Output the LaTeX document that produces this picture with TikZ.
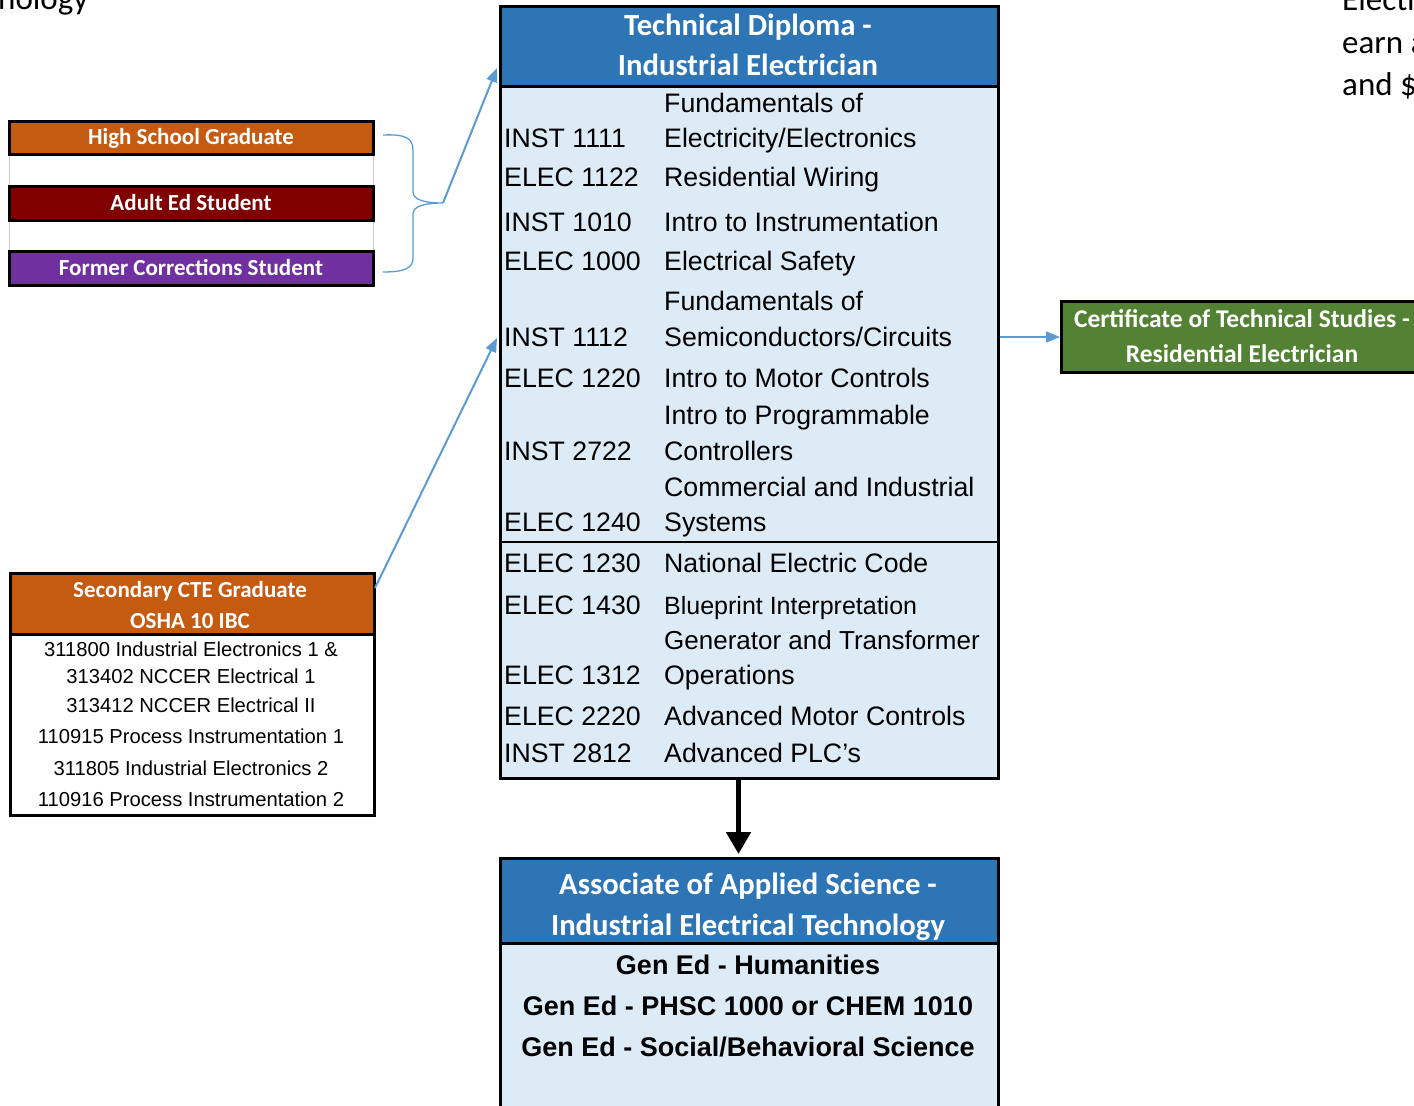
\documentclass[tikz,border=0pt]{standalone}
\usepackage{fontspec}
\setmainfont{Liberation Sans}
\newfontfamily\calibri{Carlito}
\usetikzlibrary{arrows.meta}
\definecolor{hdrblue}{HTML}{2E75B6}
\definecolor{bodyblue}{HTML}{DDEBF7}
\definecolor{hsorange}{HTML}{C55A11}
\definecolor{adultred}{HTML}{800000}
\definecolor{corrpurple}{HTML}{7030A0}
\definecolor{ctsgreen}{HTML}{548235}
\definecolor{linkblue}{HTML}{5B9BD5}
\begin{document}
\begin{tikzpicture}[x=1pt,y=-1pt,
  panel/.style={draw=black, line width=3pt, inner sep=0pt, anchor=north west},
  lbox/.style={draw=black, line width=3pt, inner sep=0pt, text=white, minimum width=364pt,
    font=\calibri\bfseries\fontsize{23}{27}\selectfont, text height=14.8pt, text depth=0pt},
  hdr/.style={anchor=base, inner sep=0pt, text=white, font=\calibri\bfseries\fontsize{30.7}{35}\selectfont},
  smhdr/.style={anchor=base, inner sep=0pt, text=white, font=\calibri\bfseries\fontsize{23}{27}\selectfont},
  ctshdr/.style={anchor=base, inner sep=0pt, text=white, font=\calibri\bfseries\fontsize{25.5}{29}\selectfont},
  course/.style={anchor=base west, inner sep=0pt, font=\fontsize{26.7}{31}\selectfont},
  cte/.style={anchor=base, inner sep=0pt, font=\fontsize{20.2}{24}\selectfont},
  gened/.style={anchor=base, inner sep=0pt, font=\bfseries\fontsize{27}{31}\selectfont},
  partial/.style={inner sep=0pt, font=\calibri\fontsize{33}{38}\selectfont},
  barrow/.style={draw=linkblue, line width=2pt, -{Triangle[length=14pt,width=11pt]}},
]
\useasboundingbox (0,0) rectangle (1414,1106);

% partial texts at the edges
\node[partial, anchor=base west] (pl) at (-2,9) {nology};
\node[partial, anchor=base west] (pr1) at (1342,10) {Electr};
\node[partial, anchor=base west] (pr2) at (1342,53) {earn a};
\node[partial, anchor=base west] (pr3) at (1342,95) {and \$};

% ---------------- Technical Diploma box ----------------
\node[panel, fill=bodyblue, minimum width=498pt, minimum height=772pt] (td) at (499,5) {};
\node[panel, fill=hdrblue, minimum width=498pt, minimum height=80pt] (tdh) at (499,5) {};
\node[hdr] (tdh1) at (748,35) {Technical Diploma -};
\node[hdr] (tdh2) at (748,75) {Industrial Electrician};
\draw[line width=2pt] (499,542) -- (997,542);

\node[course] (d1a) at (664,112) {Fundamentals of};
\node[course] (c1) at (504,147) {INST 1111};
\node[course] (d1b) at (664,147) {Electricity/Electronics};
\node[course] (c2) at (504,186) {ELEC 1122};
\node[course] (d2) at (664,186) {Residential Wiring};
\node[course] (c3) at (504,231) {INST 1010};
\node[course] (d3) at (664,231) {Intro to Instrumentation};
\node[course] (c4) at (504,270) {ELEC 1000};
\node[course] (d4) at (664,270) {Electrical Safety};
\node[course] (d5a) at (664,310) {Fundamentals of};
\node[course] (c5) at (504,346) {INST 1112};
\node[course] (d5b) at (664,346) {Semiconductors/Circuits};
\node[course] (c6) at (504,387) {ELEC 1220};
\node[course] (d6) at (664,387) {Intro to Motor Controls};
\node[course] (d7a) at (664,424) {Intro to Programmable};
\node[course] (c7) at (504,460) {INST 2722};
\node[course] (d7b) at (664,460) {Controllers};
\node[course] (d8a) at (664,496) {Commercial and Industrial};
\node[course] (c8) at (504,531) {ELEC 1240};
\node[course] (d8b) at (664,531) {Systems};
\node[course] (c9) at (504,572) {ELEC 1230};
\node[course] (d9) at (664,572) {National Electric Code};
\node[course] (c10) at (504,614) {ELEC 1430};
\node[course, font=\fontsize{25}{29}\selectfont] (d10) at (664,614) {Blueprint Interpretation};
\node[course, font=\fontsize{26}{30}\selectfont] (d11a) at (664,649) {Generator and Transformer};
\node[course] (c11) at (504,684) {ELEC 1312};
\node[course] (d11b) at (664,684) {Operations};
\node[course] (c12) at (504,725) {ELEC 2220};
\node[course] (d12) at (664,725) {Advanced Motor Controls};
\node[course] (c13) at (504,762) {INST 2812};
\node[course] (d13) at (664,762) {Advanced PLC's};

% ---------------- Associate box ----------------
\node[panel, fill=bodyblue, minimum width=498pt, minimum height=280pt] (as) at (499,857) {};
\node[panel, fill=hdrblue, minimum width=498pt, minimum height=85pt] (ash) at (499,857) {};
\node[hdr] (ash1) at (748,894) {Associate of Applied Science -};
\node[hdr] (ash2) at (748,935) {Industrial Electrical Technology};
\node[gened] (g1) at (748,974) {Gen Ed - Humanities};
\node[gened] (g2) at (748,1015) {Gen Ed - PHSC 1000 or CHEM 1010};
\node[gened] (g3) at (748,1056) {Gen Ed - Social/Behavioral Science};

% ---------------- Left entry boxes ----------------
\draw[gray!40, line width=1pt] (9,154) -- (9,251) (373,154) -- (373,251);
\node[lbox, fill=hsorange, minimum height=33pt] (hs) at (191,137.5) {High School Graduate};
\node[lbox, fill=adultred, minimum height=34pt] (ae) at (191,203) {Adult Ed Student};
\node[lbox, fill=corrpurple, minimum height=34pt] (fc) at (191,268) {Former Corrections Student};

% brace
\coordinate (bt) at (443,203);
\draw[linkblue, line width=1.3pt] (383,135) .. controls (405,134) and (413,138) .. (413,150)
  -- (413,192) .. controls (413,200) and (425,203) .. (bt)
  .. controls (425,203) and (413,206) .. (413,214)
  -- (413,258) .. controls (413,268) and (405,272) .. (383,272);

% Secondary CTE box
\node[panel, fill=white, minimum width=364pt, minimum height=242pt] (ct) at (9,572) {};
\node[panel, fill=hsorange, minimum width=364pt, minimum height=61pt] (cth) at (9,572) {};
\node[smhdr] (cth1) at (190,597) {Secondary CTE Graduate};
\node[smhdr] (cth2) at (190,628) {OSHA 10 IBC};
\node[cte] (e1) at (191,656) {311800 Industrial Electronics 1 \&};
\node[cte] (e2) at (191,683) {313402 NCCER Electrical 1};
\node[cte] (e3) at (191,712) {313412 NCCER Electrical II};
\node[cte] (e4) at (191,743) {110915 Process Instrumentation 1};
\node[cte] (e5) at (191,775) {311805 Industrial Electronics 2};
\node[cte] (e6) at (191,806) {110916 Process Instrumentation 2};

% Certificate box
\node[panel, fill=ctsgreen, minimum width=380pt, minimum height=71pt] (cts) at (1060,300) {};
\node[ctshdr] (cts1) at (1242,327) {Certificate of Technical Studies -};
\node[ctshdr] (cts2) at (1242,362) {Residential Electrician};

% connectors
\coordinate (tdin1) at (497,68);
\coordinate (tdin2) at (497,338);
\coordinate (ctout) at (375,588);
\draw[barrow] (bt) -- (tdin1);
\draw[barrow] (ctout) -- (tdin2);
\draw[barrow] (td.east |- cts.west) -- (cts.west);
\draw[line width=5pt, -{Triangle[length=22pt,width=24pt]}, shorten >=3pt]
  ([xshift=-11pt]td.south) -- ([xshift=-11pt]as.north);
\end{tikzpicture}
\end{document}
